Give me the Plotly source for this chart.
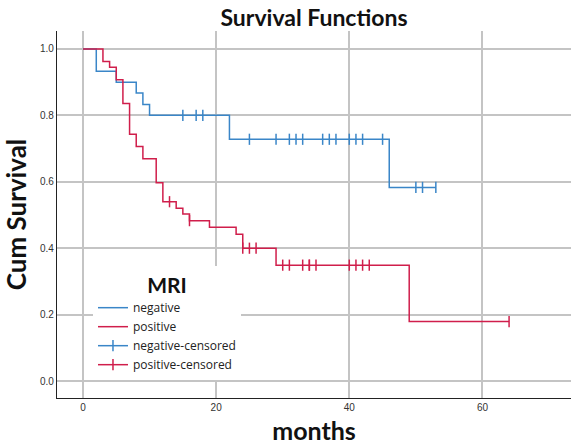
import plotly.graph_objects as go

# Kaplan-Meier step data
neg_times = [0, 2, 5, 8, 9, 10, 22, 46, 53]
neg_surv = [1.0, 0.933, 0.9, 0.867, 0.833, 0.8, 0.728, 0.583, 0.583]
neg_cens_t = [15, 17, 18, 25, 29, 31, 32, 33, 36, 37, 38, 40, 41, 42, 45, 50, 51, 53]
neg_cens_s = [0.8, 0.8, 0.8] + [0.728] * 12 + [0.583] * 3

pos_times = [0, 3, 4, 5, 6, 7, 8, 9, 11, 12, 14, 15, 16, 19, 23, 24, 29, 49, 64]
pos_surv = [1.0, 0.962, 0.945, 0.907, 0.836, 0.743, 0.706, 0.669, 0.597, 0.540,
            0.520, 0.503, 0.483, 0.463, 0.442, 0.400, 0.349, 0.179, 0.179]
pos_cens_t = [13, 16, 24, 25, 26, 30, 31, 33, 34, 34, 35, 40, 41, 42, 43, 64]
pos_cens_s = [0.540, 0.483, 0.400, 0.400, 0.400] + [0.349] * 10 + [0.179]

x_ticks = [0, 20, 40, 60]
y_ticks = [0.0, 0.2, 0.4, 0.6, 0.8, 1.0]

BLUE = "#3a86c8"
RED = "#d01e4b"


def sep(vals):
    out = []
    for v in vals:
        out += [v, None]
    return out[:-1]


fig = go.Figure()
fig.add_trace(go.Scatter(x=neg_times, y=neg_surv, mode="lines", line=dict(color=BLUE, width=1.5, shape="hv"),
                         name="negative"))
fig.add_trace(go.Scatter(x=pos_times, y=pos_surv, mode="lines", line=dict(color=RED, width=1.5, shape="hv"),
                         name="positive"))
fig.add_trace(go.Scatter(x=sep(neg_cens_t), y=sep(neg_cens_s), mode="lines+markers",
                         line=dict(color=BLUE, width=1.5),
                         marker=dict(symbol="line-ns", size=8, line=dict(color=BLUE, width=1.5)),
                         name="negative-censored"))
fig.add_trace(go.Scatter(x=sep(pos_cens_t), y=sep(pos_cens_s), mode="lines+markers",
                         line=dict(color=RED, width=1.5),
                         marker=dict(symbol="line-ns", size=8, line=dict(color=RED, width=1.5)),
                         name="positive-censored"))

fig.update_layout(
    width=571, height=446,
    margin=dict(l=57, r=0, t=31, b=48),
    paper_bgcolor="white", plot_bgcolor="white",
    title=dict(text="<b>Survival Functions</b>", x=0.5, xref="paper", y=1 - 18 / 446, yref="container",
               xanchor="center", yanchor="middle",
               font=dict(family="Lato", size=23, color="#111")),
    xaxis=dict(range=[-3.9, 73.3], tickvals=x_ticks, showgrid=True, gridcolor="#c4c4c4", gridwidth=1.5,
               zeroline=False, showline=True, linecolor="#222", linewidth=1.2, ticks="",
               tickfont=dict(family="Liberation Sans", size=10, color="#333"),
               title=dict(text="<b>months</b>", font=dict(family="Lato", size=25, color="#111"), standoff=10)),
    yaxis=dict(range=[-0.051, 1.054], tickvals=y_ticks, tickformat=".1f", showgrid=True, gridcolor="#c4c4c4",
               gridwidth=1.5, zeroline=False, showline=True, linecolor="#222", linewidth=1.2, ticks="",
               tickfont=dict(family="Liberation Sans", size=10, color="#333"),
               title=dict(text="<b>Cum Survival</b>", font=dict(family="Lato", size=26, color="#111"), standoff=8)),
    legend=dict(x=0.07, y=0.36, xanchor="left", yanchor="top", bgcolor="white",
                font=dict(family="Open Sans", size=12, color="#222"),
                title=dict(text="<b>MRI</b>", side="top center", font=dict(family="Lato", size=21, color="#111")),
                itemwidth=30, tracegroupgap=0),
    showlegend=True,
)

fig.write_html("out.html", post_script="document.body.style.margin='0px';",
               config={"displayModeBar": False})
